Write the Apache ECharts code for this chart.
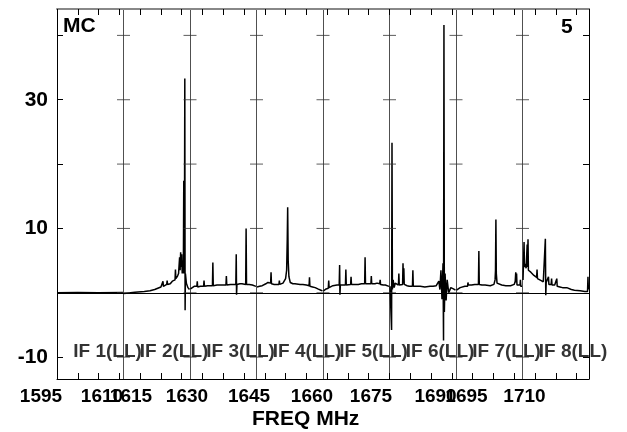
<!DOCTYPE html>
<html>
<head>
<meta charset="utf-8">
<script src="https://cdn.jsdelivr.net/npm/echarts@6/dist/echarts.min.js"></script>
<style>html,body{margin:0;padding:0;background:#fff}</style>
</head>
<body>
<div id="main" style="width:627px;height:432px;"></div>
<script type="text/javascript">
    // frequency labels and where they sit (channel units, 64 channels per IF)
    var freqLabels = ['1595', '1610', '1615', '1630', '1645', '1660', '1675', '1690', '1695', '1710'];
    var freqLabelPos = [-15.4, 43.3, 71.2, 125.1, 184.8, 245.4, 302.2, 364.3, 394.1, 449.9];
    var yLabelValues = [-10, 10, 30];
    var yTickValues = [-10, 0, 10, 20, 30, 40];
    var ifNames = ['IF 1(LL)', 'IF 2(LL)', 'IF 3(LL)', 'IF 4(LL)', 'IF 5(LL)', 'IF 6(LL)', 'IF 7(LL)', 'IF 8(LL)'];
    var nChan = 64;

    // spectra per IF: [channel, amplitude]
    var if1 = [[0, 0], [20, 0.05], [40, 0], [63.5, 0.05]];
    var if2 = [[0.5, -0.1], [11, 0.1], [20, 0.2], [25.5, 0.3], [30, 0.5], [33, 0.7], [36, 0.9], [37.6, 1.0], [38, 1.8], [38.4, 1.0],
        [41.6, 1.3], [42, 1.9], [42.4, 1.3], [45, 1.4], [47, 1.8], [48, 1.5], [49.6, 2.0], [50, 3.6], [50.4, 2.2], [52, 2.6],
        [53, 3.0], [54, 5.5], [54.5, 3.5], [55, 6.3], [55.5, 4.0], [56, 6.0], [56.5, 3.0], [57, 5.0], [57.6, 3.0], [58, 17.4],
        [58.3, 3.0], [58.6, 5.0], [59, 33.3], [59.3, -2.7], [59.6, 3.0], [60.5, 1.5], [62, 0.8], [63.5, 0.5]];
    var if3 = [[0.5, 0.6], [2, 0.9], [4, 1.0], [6.6, 1.0], [7, 1.8], [7.4, 0.9], [10, 1.0], [13.1, 1.0], [13.5, 1.9], [13.9, 1.0],
        [17, 1.1], [21.6, 1.1], [22, 4.7], [22.4, 1.1], [26, 1.2], [29, 1.2], [32, 1.2], [34.6, 1.2], [35, 2.6], [35.4, 1.2],
        [39, 1.3], [41.5, 1.3], [44.1, 1.3], [44.5, 6.0], [44.8, -0.3], [45.2, 1.3], [48, 1.4], [50, 1.4], [53.6, 1.3], [54, 10.0],
        [54.4, 1.3], [57, 1.3], [60, 1.2], [63.5, 1.0]];
    var if4 = [[0.5, 0.9], [3, 1.0], [5.5, 1.1], [9, 1.4], [11, 1.6], [13.6, 1.5], [14, 3.2], [14.4, 1.4], [17, 1.3], [19, 1.3],
        [21.6, 1.3], [22, 1.9], [22.4, 1.3], [25.5, 1.5], [28, 2.2], [29, 3.5], [29.6, 8.3], [30, 13.3], [30.5, 5.0], [31.2, 2.5],
        [32.5, 1.6], [35, 1.4], [37, 1.4], [42, 1.3], [44.6, 1.3], [45, 1.6], [45.4, 1.2], [48, 1.2], [50.6, 1.1], [51, 2.4],
        [51.4, 1.0], [54, 0.9], [56.5, 0.8], [59, 0.6], [62, 0.4], [63.5, 0.3]];
    var if5 = [[0.5, 0.3], [3, 0.6], [5.1, 0.7], [5.5, 1.9], [5.9, 0.8], [9.5, 1.1], [13.5, 1.2], [15.6, 1.2], [16, 4.3], [16.3, -0.3],
        [16.7, 1.2], [19, 1.2], [21.6, 1.2], [22, 3.6], [22.4, 1.2], [26.6, 1.3], [27, 2.5], [27.4, 1.3], [31, 1.3], [34, 1.3],
        [37, 1.4], [40.1, 1.4], [40.5, 5.5], [40.9, 1.4], [44, 1.4], [46.1, 1.4], [46.5, 2.6], [46.9, 1.4], [50, 1.4], [52, 1.5],
        [54.6, 1.4], [55, 2.0], [55.4, 1.3], [58, 1.2], [60, 1.2], [63.5, 1.0]];
    var if6 = [[0.5, 1.0], [1.6, 1.0], [2, -5.8], [2.4, 23.3], [2.8, 0.5], [3.5, 2.0], [4.5, 0.8], [5.5, 1.5], [7, 1.2], [8.6, 1.2],
        [9, 3.0], [9.4, 1.2], [12.6, 1.3], [13, 4.6], [13.4, 1.5], [13.8, 3.8], [14.2, 1.3], [17, 1.1], [19, 1.0], [22.1, 1.0],
        [22.5, 3.5], [22.9, 1.0], [26, 1.0], [29.5, 1.0], [34, 0.9], [39, 1.0], [42, 1.0], [45, 1.1], [47.5, 1.8], [48.5, 0.5],
        [49.5, 3.5], [50.5, -1.0], [51.5, 4.6], [52, -7.4], [52.4, 41.6], [52.8, -3.0], [53.5, 3.0], [54.5, -1.2], [55.5, 2.0], [57, 0.0],
        [59, 0.8], [61.5, 0.6], [63.5, 0.4]];
    var if7 = [[0.5, 0.4], [4, 0.8], [8.5, 1.0], [11.1, 1.0], [11.5, 1.6], [11.9, 1.2], [15, 1.2], [18, 1.3], [21.6, 1.3], [22, 6.5],
        [22.4, 1.3], [25, 1.2], [28, 1.2], [33, 1.1], [36.5, 1.3], [37.6, 2.0], [38, 3.4], [38.4, 11.4], [38.8, 3.0], [39.5, 1.5],
        [41, 1.3], [44, 1.2], [48, 1.1], [52.5, 1.1], [56, 1.3], [57, 1.8], [57.5, 3.2], [57.9, 1.6], [58.3, 3.0], [58.7, 1.2],
        [60, 1.2], [61.6, 1.2], [62, 2.0], [62.4, 1.0], [63.5, 1.0]];
    var if8 = [[0.5, 2.0], [1.1, 2.0], [1.5, 7.9], [1.9, 4.0], [2.5, 4.5], [3.5, 3.8], [4.1, 4.0], [4.5, 7.5], [4.9, 4.0], [5.3, 8.3],
        [5.7, 3.5], [6.5, 3.4], [8, 3.2], [11, 2.7], [13.6, 2.4], [14, 3.6], [14.4, 2.2], [16, 2.1], [18, 1.9], [20, 1.7],
        [21.6, 1.7], [22, 8.4], [22.4, -0.4], [22.8, 1.6], [24.6, 1.5], [25, 2.5], [25.4, 1.3], [27.6, 1.3], [28, 2.2], [28.4, 1.2],
        [31, 1.2], [32.6, 1.1], [33, 2.2], [33.4, 1.0], [36, 0.9], [38.5, 0.8], [42.6, 0.8], [43, 1.0], [43.4, 0.6], [47, 0.5],
        [50, 0.4], [55.5, 0.3], [60, 0.2], [62.6, 0.2], [63, 2.5], [63.4, 0.5]];
    var spectra = [if1, if2, if3, if4, if5, if6, if7, if8];

    var gridLeft = 57, gridWidth = 532;
    var xMax = nChan * spectra.length;
    var yMin = -13.4, yMax = 44.1;
    var font = 'Liberation Sans, Arial, sans-serif';

    var myChart = echarts.init(document.getElementById('main'));

    var series = spectra.map(function (d, k) {
        return {
            type: 'line',
            xAxisIndex: 0,
            yAxisIndex: 0,
            showSymbol: false,
            data: d.map(function (p) { return [k * nChan + p[0], p[1]]; }),
            lineStyle: { color: '#000', width: 1.5 },
            z: 3
        };
    });
    // zero line
    series[0].markLine = {
        silent: true,
        symbol: 'none',
        label: { show: false },
        lineStyle: { color: '#000', width: 1, type: 'solid' },
        data: [{ yAxis: 0 }]
    };

    // tick marks crossing the IF borders
    var crossTicks = [];
    for (var k = 1; k < spectra.length; k++) {
        yTickValues.forEach(function (v) { crossTicks.push([k * nChan, v]); });
    }
    series.push({
        type: 'scatter',
        xAxisIndex: 0,
        yAxisIndex: 0,
        symbol: 'rect',
        symbolSize: [13, 1],
        itemStyle: { color: '#333' },
        data: crossTicks,
        silent: true,
        z: 4
    });

    // IF names along the bottom
    series.push({
        type: 'scatter',
        xAxisIndex: 0,
        yAxisIndex: 0,
        symbolSize: 0,
        data: ifNames.map(function (n, k) { return [k * nChan + 15.7, -9.2]; }),
        label: {
            show: true,
            position: 'right',
            distance: 0,
            formatter: function (p) { return ifNames[p.dataIndex]; },
            color: '#000',
            fontFamily: font,
            fontWeight: 'bold',
            fontSize: 19
        },
        silent: true,
        z: 5
    });

    option = {
        animation: false,
        backgroundColor: '#fff',
        title: [
            { text: 'MC', left: 63, top: 16, padding: 0, textStyle: { fontFamily: font, fontWeight: 'bold', fontSize: 21, color: '#000' } },
            { text: '5', left: 561, top: 17, padding: 0, textStyle: { fontFamily: font, fontWeight: 'bold', fontSize: 21, color: '#000' } },
            { text: 'FREQ MHz', left: 252, top: 409, padding: 0, textStyle: { fontFamily: font, fontWeight: 'bold', fontSize: 21, color: '#000' } }
        ],
        grid: [
            { left: gridLeft, top: 9, width: gridWidth, height: 370 },
            { left: 0, top: 9, width: gridLeft + gridWidth, height: 370 }
        ],
        xAxis: [
            {
                gridIndex: 0, type: 'value', position: 'bottom', min: 0, max: xMax, interval: 20,
                axisLine: { onZero: false, lineStyle: { color: '#000', width: 1 } },
                axisTick: { inside: true, length: 6, lineStyle: { color: '#000' } },
                axisLabel: { show: false },
                splitLine: { show: false }
            },
            {
                gridIndex: 0, type: 'value', position: 'top', min: 0, max: xMax, interval: 20,
                axisLine: { onZero: false, lineStyle: { color: '#888', width: 2 } },
                axisTick: { inside: true, length: 6, lineStyle: { color: '#000' } },
                axisLabel: { show: false },
                splitLine: { show: false }
            },
            {
                // IF borders
                gridIndex: 0, type: 'value', position: 'bottom', min: 0, max: xMax, interval: nChan,
                axisLine: { show: false, onZero: false },
                axisTick: { show: false },
                axisLabel: { show: false },
                splitLine: { show: true, lineStyle: { color: '#505050', width: 1 } }
            },
            {
                // frequency labels, on a grid that reaches the left edge
                gridIndex: 1, type: 'value', position: 'bottom',
                min: -gridLeft * xMax / gridWidth, max: xMax,
                axisLine: { show: false, onZero: false },
                axisTick: { show: false },
                splitLine: { show: false },
                axisLabel: {
                    customValues: freqLabelPos,
                    formatter: function (v) { return freqLabels[freqLabelPos.indexOf(v)]; },
                    margin: 8,
                    color: '#000',
                    fontFamily: font,
                    fontWeight: 'bold',
                    fontSize: 19
                }
            }
        ],
        yAxis: [
            {
                gridIndex: 0, type: 'value', position: 'left', min: yMin, max: yMax,
                axisLine: { show: true, onZero: false, lineStyle: { color: '#000', width: 1 } },
                axisTick: { show: true, inside: true, length: 6, customValues: yTickValues, lineStyle: { color: '#000' } },
                axisLabel: {
                    customValues: yLabelValues,
                    margin: 9,
                    color: '#000',
                    fontFamily: font,
                    fontWeight: 'bold',
                    fontSize: 21
                },
                splitLine: { show: false }
            },
            {
                gridIndex: 0, type: 'value', position: 'right', min: yMin, max: yMax,
                axisLine: { show: true, onZero: false, lineStyle: { color: '#000', width: 1 } },
                axisTick: { show: true, inside: true, length: 6, customValues: yTickValues, lineStyle: { color: '#000' } },
                axisLabel: { show: false },
                splitLine: { show: false }
            },
            {
                gridIndex: 1, type: 'value', min: yMin, max: yMax, show: false
            }
        ],
        series: series
    };
    myChart.setOption(option);
</script>
</body>
</html>
